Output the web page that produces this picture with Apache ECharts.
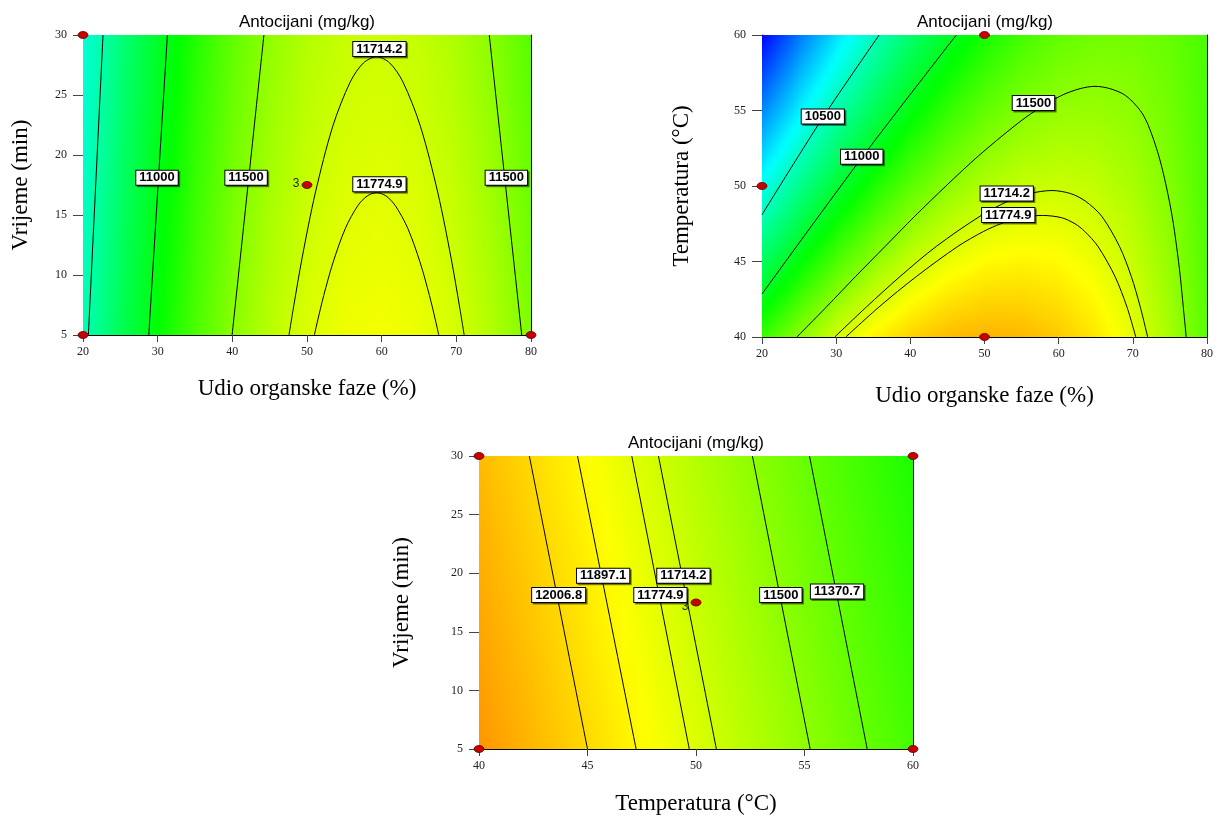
<!DOCTYPE html>
<html><head><meta charset="utf-8">
<script src="https://cdn.jsdelivr.net/npm/echarts@6/dist/echarts.min.js"></script>
<style>html,body{margin:0;padding:0;background:#fff}#c{width:1216px;height:818px}</style>
</head><body><div id="c"></div>
<script>
// ---------- Panel 1: Udio organske faze (%) x Vrijeme (min) ----------
const p1X = [20,25,30,35,40,45,50,55,60,65,70,75,80];
const p1Y = [5,17.5,30];
const p1Z = [
 [10411,10750,11044,11291,11493,11648,11758,11821,11839,11810,11736,11615,11449],
 [10345,10684,10978,11225,11427,11582,11692,11755,11773,11744,11670,11549,11383],
 [10278,10618,10911,11159,11360,11516,11625,11689,11706,11678,11603,11483,11316]
];
const p1C10500 = [[20.72,5],[22.68,30]];
const p1C11000 = [[28.81,5],[31.30,30]];
const p1C11500a = [[39.97,5],[44.23,30]];
const p1C11500b = [[78.76,5],[74.41,30]];
const p1C11714 = [[47.59,5],[48.18,7.26],[49.35,11.44],[51.11,16.83],[53.45,22.39],[55.80,26.10],[57.56,27.67],[59.32,28.19],[61.08,27.67],[62.84,26.10],[65.19,22.39],[67.53,16.83],[69.29,11.44],[70.46,7.26],[71.05,5]];
const p1C11775 = [[50.99,5],[51.41,6.16],[52.24,8.29],[53.49,11.05],[55.15,13.90],[56.82,15.79],[58.07,16.59],[59.32,16.86],[60.57,16.59],[61.82,15.79],[63.49,13.90],[65.15,11.05],[66.40,8.29],[67.23,6.16],[67.65,5]];
const p1Labels = [[29.91,18.11,'11000'],[41.84,18.11,'11500'],[59.70,17.56,'11774.9'],[59.70,28.83,'11714.2'],[76.70,18.11,'11500']];
const p1Pts = [[20,30,''],[20,5,''],[80,5,''],[50,17.5,'3']];

// ---------- Panel 2: Udio organske faze (%) x Temperatura (°C) ----------
const p2X = [20,25,30,35,40,45,50,55,60,65,70,75,80];
const p2Y = [40,45,50,55,60];
const p2Z = [
 [11231,11505,11731,11908,12037,12117,12149,12132,12067,11953,11791,11580,11321],
 [10716,11031,11298,11517,11687,11808,11881,11906,11882,11809,11688,11519,11301],
 [10207,10563,10872,11131,11343,11505,11620,11685,11703,11671,11592,11463,11287],
 [9705,10103,10452,10753,11006,11210,11365,11472,11531,11541,11502,11415,11280],
 [9209,9648,10039,10381,10675,10920,11117,11265,11365,11416,11419,11373,11279]
];
const p2C10500 = [[20,48.1],[28.3,54.6],[35.8,60]];
const p2C11000 = [[20,42.85],[33.5,51.9],[46.2,60]];
const p2C11500 = [[24.7,40],[28.7,42],[32.6,44],[36.6,46],[40.6,48],[44.8,50],[49.2,52],[54.1,54],[56.9,55],[60.4,56],[62.9,56.45],[64.9,56.6],[66.9,56.45],[69.0,56],[71.0,55],[72.1,54],[73.5,52],[74.5,50],[75.3,48],[75.9,46],[76.4,44],[76.8,42],[77.2,40]];
const p2C11714 = [[29.8,40],[34.1,42],[38.6,44],[43.5,46],[49.4,48],[53.2,49],[56.1,49.5],[59.1,49.7],[61.6,49.5],[63.6,49],[65.8,48],[68.2,46],[69.8,44],[71.0,42],[72.0,40]];
const p2C11775 = [[31.3,40],[35.8,42],[40.8,44],[46.4,46],[49.9,47],[52.2,47.5],[54.6,47.9],[57.8,48.05],[60.4,47.9],[62.2,47.5],[63.5,47],[65.3,46],[67.6,44],[69.2,42],[70.4,40]];
const p2Labels = [[28.2,54.6,'10500'],[33.45,51.94,'11000'],[56.6,55.5,'11500'],[53.0,49.51,'11714.2'],[53.2,48.08,'11774.9']];
const p2Pts = [[50,60,''],[20,50,''],[50,40,'']];

// ---------- Panel 3: Temperatura (°C) x Vrijeme (min) ----------
const p3X = [40,45,50,55,60];
const p3Y = [5,17.5,30];
const p3Z = [
 [12254,12007,11761,11514,11268],
 [12188,11941,11695,11448,11202],
 [12121,11875,11628,11382,11135]
];
const p3C12007 = [[45.00,5],[42.32,30]];
const p3C11897 = [[47.24,5],[44.54,30]];
const p3C11775 = [[49.69,5],[47.04,30]];
const p3C11714 = [[50.94,5],[48.27,30]];
const p3C11500 = [[55.26,5],[52.60,30]];
const p3C11371 = [[57.89,5],[55.23,30]];
const p3Labels = [[43.67,18.13,'12006.8'],[45.72,19.78,'11897.1'],[48.36,18.13,'11774.9'],[49.42,19.78,'11714.2'],[53.91,18.13,'11500'],[56.5,18.44,'11370.7']];
const p3Pts = [[40,30,''],[60,30,''],[40,5,''],[60,5,''],[50,17.5,'3']];

// ---------- styling ----------
const rampStops = [[9200,[0,0,255]],[10150,[0,255,255]],[11050,[0,255,0]],[11870,[255,255,0]],[12800,[255,0,0]]];
function ramp(v){
  if (v <= rampStops[0][0]) return 'rgb(0,0,255)';
  for (let k=0;k<rampStops.length-1;k++){
    const a=rampStops[k], b=rampStops[k+1];
    if (v <= b[0]){
      const t=(v-a[0])/(b[0]-a[0]);
      const c=a[1].map((ch,q)=>Math.round(ch+(b[1][q]-ch)*t));
      return 'rgb('+c.join(',')+')';
    }
  }
  return 'rgb(255,0,0)';
}
function surface(gi, xs, ys, Z){
  const data=[];
  for (let j=0;j<ys.length-1;j++) for (let i=0;i<xs.length-1;i++)
    data.push([(xs[i]+xs[i+1])/2,(ys[j]+ys[j+1])/2,i,j]);
  return {
    type:'custom', xAxisIndex:gi, yAxisIndex:gi, data, clip:true, silent:true, z:1,
    encode:{x:0,y:1},
    renderItem:function(params, api){
      const i=api.value(2), j=api.value(3);
      const pa=api.coord([xs[i],ys[j]]), pb=api.coord([xs[i+1],ys[j+1]]);
      const x0=pa[0], x1=pb[0], yBot=pa[1], yTop=pb[1];
      const H=yBot-yTop, n=Math.max(1,Math.ceil(H/2)), h=H/n;
      const v00=Z[j][i], v10=Z[j][i+1], v01=Z[j+1][i], v11=Z[j+1][i+1];
      const children=[];
      for (let k=0;k<n;k++){
        const t=(k+0.5)/n, vl=v00+(v01-v00)*t, vr=v10+(v11-v10)*t;
        const stops=[];
        for (let s=0;s<=6;s++){ const f=s/6; stops.push({offset:f,color:ramp(vl+(vr-vl)*f)}); }
        children.push({type:'rect', shape:{x:x0,y:yBot-(k+1)*h,width:x1-x0+0.8,height:h+0.8},
          style:{fill:{type:'linear',x:0,y:0,x2:1,y2:0,colorStops:stops}}, silent:true});
      }
      return {type:'group', children};
    }
  };
}
function contour(gi, pts){
  return {type:'line', xAxisIndex:gi, yAxisIndex:gi, data:pts, showSymbol:false, symbol:'none',
    smooth:0.3, silent:true, z:3, lineStyle:{color:'#000',width:1}};
}
function labels(gi, arr){
  return {type:'scatter', xAxisIndex:gi, yAxisIndex:gi, data:arr, symbol:'rect', symbolSize:1,
    itemStyle:{color:'rgba(0,0,0,0)',opacity:1}, silent:true, z:6,
    label:{show:true, position:'inside', formatter:p=>p.value[2], fontFamily:'Liberation Sans',
      fontWeight:'bold', fontSize:13, color:'#000', backgroundColor:'#fff', borderColor:'#000',
      borderWidth:1, padding:[1,3,0,3], lineHeight:13, opacity:1,
      shadowColor:'rgba(0,0,0,0.45)', shadowOffsetX:1.5, shadowOffsetY:1.5, shadowBlur:0}};
}
function points(gi, arr, off){
  return {type:'scatter', xAxisIndex:gi, yAxisIndex:gi, data:arr, symbol:'circle', symbolSize:[10,7],
    clip:false, silent:true, z:5, itemStyle:{color:'#c80000',borderColor:'#5a0000',borderWidth:0.8,opacity:1},
    label:{show:true, position:'left', distance:2, offset:off, formatter:p=>p.value[2],
      fontFamily:'Liberation Sans', fontSize:12, color:'#1a2a00', opacity:1}};
}
const serif='Liberation Serif';
function mainX(gi,min,max,interval,name,gap){
  return {type:'value',gridIndex:gi,min,max,interval,position:'bottom',
    axisLine:{show:true,onZero:false,lineStyle:{color:'#000',width:1}},
    axisTick:{show:true,length:7,lineStyle:{color:'#444'}},
    axisLabel:{margin:11,fontFamily:serif,fontSize:12,color:'#222'},
    splitLine:{show:false},name,nameLocation:'middle',nameGap:gap,
    nameTextStyle:{fontFamily:serif,fontSize:23,color:'#000'}};
}
function mainY(gi,min,max,interval,name,gap){
  return {type:'value',gridIndex:gi,min,max,interval,position:'left',
    axisLine:{show:true,onZero:false,lineStyle:{color:'#000',width:1}},
    axisTick:{show:true,length:10,lineStyle:{color:'#444'}},
    axisLabel:{margin:16,fontFamily:serif,fontSize:12,color:'#222'},
    splitLine:{show:false},name,nameLocation:'middle',nameGap:gap,nameRotate:90,
    nameTextStyle:{fontFamily:serif,fontSize:23,color:'#000'}};
}
function borderAx(gi,min,max,pos){
  return {type:'value',gridIndex:gi,min,max,position:pos,
    axisLine:{show:true,onZero:false,lineStyle:{color:'#000',width:1}},
    axisTick:{show:false},axisLabel:{show:false},splitLine:{show:false}};
}
const titleFont='17px "Liberation Sans"';
const option={
  animation:false,
  grid:[
    {left:83,top:35,width:448,height:300},
    {left:762,top:35,width:447,height:302},
    {left:479,top:456,width:434,height:293}
  ],
  xAxis:[
    mainX(0,20,80,10,'Udio organske faze (%)',42),
    mainX(1,20,80,10,'Udio organske faze (%)',47),
    mainX(2,40,60,5,'Temperatura (°C)',43),
    borderAx(0,20,80,'top'),borderAx(1,20,80,'top'),borderAx(2,40,60,'top')
  ],
  yAxis:[
    mainY(0,5,30,5,'Vrijeme (min)',51),
    mainY(1,40,60,5,'Temperatura (°C)',69),
    mainY(2,5,30,5,'Vrijeme (min)',66),
    borderAx(0,5,30,'right'),borderAx(1,40,60,'right'),borderAx(2,5,30,'right')
  ],
  graphic:[
    {type:'text',x:307,y:22,style:{text:'Antocijani (mg/kg)',font:titleFont,fill:'#000',align:'center',verticalAlign:'middle'}},
    {type:'text',x:985,y:22,style:{text:'Antocijani (mg/kg)',font:titleFont,fill:'#000',align:'center',verticalAlign:'middle'}},
    {type:'text',x:696,y:443,style:{text:'Antocijani (mg/kg)',font:titleFont,fill:'#000',align:'center',verticalAlign:'middle'}}
  ],
  series:[
    surface(0,p1X,p1Y,p1Z), surface(1,p2X,p2Y,p2Z), surface(2,p3X,p3Y,p3Z),
    contour(0,p1C10500),contour(0,p1C11000),contour(0,p1C11500a),contour(0,p1C11500b),contour(0,p1C11714),contour(0,p1C11775),
    contour(1,p2C10500),contour(1,p2C11000),contour(1,p2C11500),contour(1,p2C11714),contour(1,p2C11775),
    contour(2,p3C12007),contour(2,p3C11897),contour(2,p3C11775),contour(2,p3C11714),contour(2,p3C11500),contour(2,p3C11371),
    labels(0,p1Labels),labels(1,p2Labels),labels(2,p3Labels),
    points(0,p1Pts,[0,-1]),points(1,p2Pts,[0,0]),points(2,p3Pts,[0,4])
  ]
};
const chart=echarts.init(document.getElementById('c'),null,{renderer:'canvas'});
chart.setOption(option);
</script></body></html>
